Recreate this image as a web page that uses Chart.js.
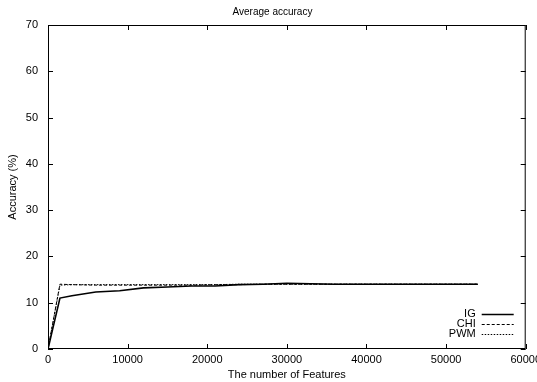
<!DOCTYPE html>
<html>
<head>
<meta charset="utf-8">
<script src="https://cdn.jsdelivr.net/npm/chart.js@4"></script>
<style>
  body { margin: 0; background: #fff; overflow: hidden; }
  #wrap { width: 545px; height: 382px; }
</style>
</head>
<body>
<div id="wrap"><canvas id="myChart"></canvas></div>
<script>
// data
const features = [0, 1500, 3000, 6000, 9000, 12000, 15000, 18000, 21000, 24000, 27000, 30000, 33000, 36000, 40000, 45000, 50000, 54000];
const igAcc  = [0, 11.0, 11.5, 12.3, 12.6, 13.2, 13.4, 13.6, 13.6, 13.9, 14.0, 14.2, 14.1, 14.0, 14.0, 14.0, 14.0, 14.0];
const chiAcc = [0, 14.0, 13.9, 13.8, 13.8, 13.8, 13.8, 13.8, 13.9, 13.9, 14.0, 14.0, 14.0, 14.0, 14.0, 14.0, 14.0, 14.0];
const pwmAcc = [0, 13.8, 13.9, 13.9, 13.9, 13.9, 13.9, 13.9, 13.9, 14.0, 14.0, 14.0, 14.0, 14.0, 14.0, 14.0, 14.0, 14.0];
const xTicks = [0, 10000, 20000, 30000, 40000, 50000, 60000];
const yTicks = [0, 10, 20, 30, 40, 50, 60, 70];

const font = "'Liberation Sans', Arial, sans-serif";
Chart.defaults.font.family = font;
Chart.defaults.font.size = 11;
Chart.defaults.color = '#000';

const toPoints = ys => features.map((x, i) => ({x: x, y: ys[i]}));

const series = [
  {label: 'IG',  data: toPoints(igAcc),  borderWidth: 1.6, borderDash: []},
  {label: 'CHI', data: toPoints(chiAcc), borderWidth: 1,   borderDash: [3, 2]},
  {label: 'PWM', data: toPoints(pwmAcc), borderWidth: 1,   borderDash: [1.5, 1.5]}
];

// gnuplot style: ticks pointing inwards on all four sides, legend bottom right
const gnuplotBits = {
  id: 'gnuplotBits',
  afterDatasetsDraw(chart) {
    const c = chart.ctx, a = chart.chartArea;
    const sx = chart.scales.x, sy = chart.scales.y;
    c.save();
    c.strokeStyle = '#000';
    c.lineWidth = 1;
    c.beginPath();
    xTicks.forEach(v => {
      const px = Math.round(sx.getPixelForValue(v)) + 0.5;
      c.moveTo(px, a.bottom); c.lineTo(px, a.bottom - 5);
      c.moveTo(px, a.top); c.lineTo(px, a.top + 5);
    });
    yTicks.forEach(v => {
      const py = Math.round(sy.getPixelForValue(v)) + 0.5;
      c.moveTo(a.left, py); c.lineTo(a.left + 5, py);
      c.moveTo(a.right, py); c.lineTo(a.right - 5, py);
    });
    c.stroke();
    c.strokeRect(a.left + 0.5, a.top + 0.5, a.right - a.left - 1, a.bottom - a.top - 1);

    // legend
    c.font = '11px ' + font;
    c.fillStyle = '#000';
    c.textAlign = 'right';
    c.textBaseline = 'middle';
    series.forEach((s, i) => {
      const y = a.bottom - 35 + i * 10;
      c.fillText(s.label, a.right - 50, y);
      c.beginPath();
      c.lineWidth = s.borderWidth;
      c.setLineDash(s.borderDash);
      c.moveTo(a.right - 44, y + 0.5);
      c.lineTo(a.right - 12, y + 0.5);
      c.stroke();
    });
    c.restore();
  }
};

new Chart(document.getElementById('myChart'), {
  type: 'line',
  data: {
    datasets: series.map(s => ({
      label: s.label,
      data: s.data,
      borderColor: '#000',
      borderWidth: s.borderWidth,
      borderDash: s.borderDash,
      pointRadius: 0,
      tension: 0,
      fill: false
    }))
  },
  options: {
    responsive: true,
    maintainAspectRatio: false,
    animation: false,
    layout: {padding: {left: 0, right: 0, top: 0, bottom: 0}},
    plugins: {
      legend: {display: false},
      tooltip: {enabled: false},
      title: {
        display: true,
        text: 'Average accuracy',
        color: '#000',
        font: {size: 10, weight: 'normal'},
        padding: {top: 6, bottom: 7}
      }
    },
    scales: {
      x: {
        type: 'linear',
        min: 0,
        max: 60000,
        afterBuildTicks: s => { s.ticks = xTicks.map(v => ({value: v})); },
        afterFit: s => { s.height = 33; },
        grid: {display: false, drawTicks: false},
        border: {display: false},
        ticks: {padding: 4, maxRotation: 0, autoSkip: false, callback: v => String(v)},
        title: {display: true, text: 'The number of Features', padding: {top: 1, bottom: 0}}
      },
      y: {
        min: 0,
        max: 70,
        afterBuildTicks: s => { s.ticks = yTicks.map(v => ({value: v})); },
        afterFit: s => { s.width = 48; },
        grid: {display: false, drawTicks: false},
        border: {display: false},
        ticks: {padding: 10, autoSkip: false},
        title: {display: true, text: 'Accuracy (%)', padding: {top: 6, bottom: 0}}
      }
    }
  },
  plugins: [gnuplotBits]
});
</script>
</body>
</html>
